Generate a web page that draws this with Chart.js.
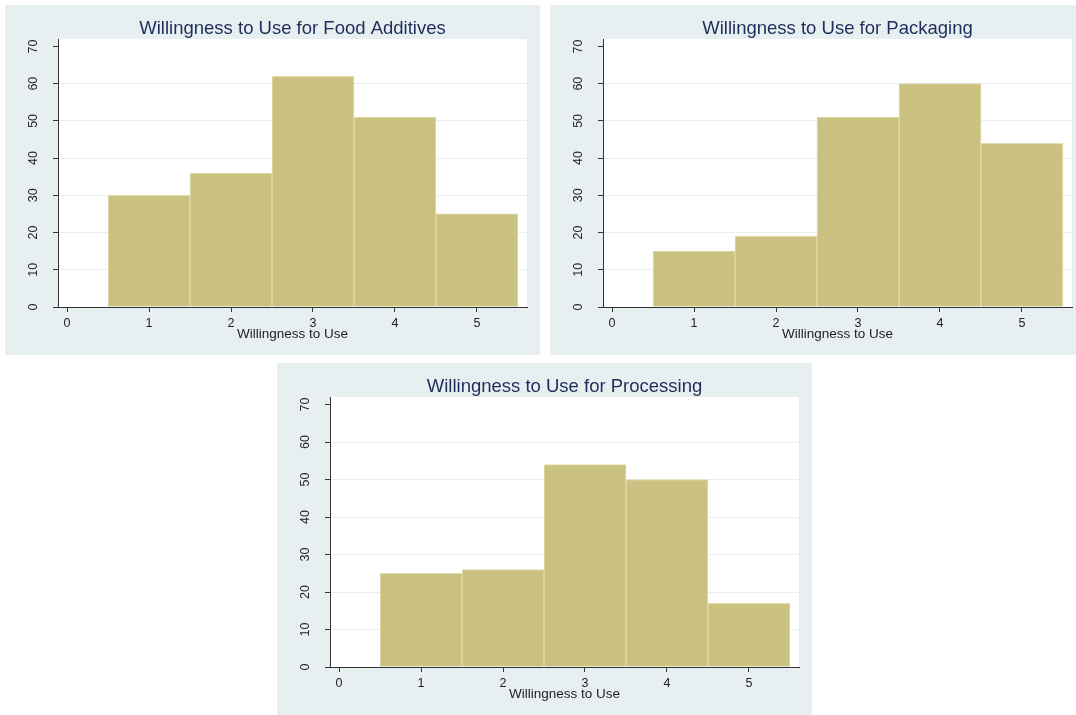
<!DOCTYPE html>
<html>
<head>
<meta charset="utf-8">
<script src="https://cdn.jsdelivr.net/npm/chart.js@4.4.1/dist/chart.umd.min.js"></script>
<style>
  html, body { margin: 0; padding: 0; background: #fff; width: 1076px; height: 715px; overflow: hidden; }
  .panel { position: absolute; width: 535px; background: #e8eff1; }
</style>
</head>
<body>
<div class="panel" style="left:5px; top:5px; height:350px;"><canvas id="foodChart"></canvas></div>
<div class="panel" style="left:550px; top:5px; height:350px;"><canvas id="packChart"></canvas></div>
<div class="panel" style="left:277px; top:363px; height:352px;"><canvas id="procChart"></canvas></div>
<script>
// Counts of respondents per willingness score
const willingness = [1, 2, 3, 4, 5];
const foodAdditives = [30, 36, 62, 51, 25];
const packaging = [15, 19, 51, 60, 44];
const processing = [25, 26, 54, 50, 17];

const xTicks = [0, 1, 2, 3, 4, 5];
const yTicks = [0, 10, 20, 30, 40, 50, 60, 70];

const FONT = '"Liberation Sans", Arial, sans-serif';
Chart.defaults.font.family = FONT;
Chart.defaults.color = '#222';

// white plot region on the tinted panel
const plotBackground = {
    id: 'plotBackground',
    beforeDraw(chart) {
        const { ctx, chartArea: a } = chart;
        ctx.save();
        ctx.fillStyle = '#ffffff';
        ctx.fillRect(a.left, a.top, a.right - a.left, a.bottom - a.top);
        ctx.restore();
    }
};

function makePanel(id, title, counts) {
    const ctx = document.getElementById(id).getContext('2d');
    return new Chart(ctx, {
        type: 'bar',
        data: {
            datasets: [{
                data: willingness.map((w, i) => ({ x: w, y: counts[i] })),
                backgroundColor: '#cbc282',
                borderColor: '#e2dcae',
                borderWidth: { top: 1, left: 1, right: 1, bottom: 0 },
                borderSkipped: false,
                barPercentage: 1,
                categoryPercentage: 1
            }]
        },
        options: {
            responsive: true,
            maintainAspectRatio: false,
            devicePixelRatio: 1,
            animation: false,
            layout: { padding: { top: 0, left: 0, right: 13, bottom: 0 } },
            plugins: {
                legend: { display: false },
                tooltip: { enabled: false }
            },
            scales: {
                x: {
                    type: 'linear',
                    position: 'bottom',
                    min: -0.11,
                    max: 5.61,
                    offset: false,
                    afterBuildTicks: (scale) => { scale.ticks = xTicks.map(v => ({ value: v })); },
                    afterFit: (scale) => { scale.height = 48; },
                    grid: {
                        offset: false,
                        drawOnChartArea: false,
                        tickLength: 5,
                        tickColor: '#333'
                    },
                    border: { color: '#333', width: 1 },
                    ticks: { padding: 4, font: { size: 12.5 }, color: '#222', autoSkip: false, maxRotation: 0 },
                    title: {
                        display: true,
                        text: 'Willingness to Use',
                        font: { size: 13.5 },
                        color: '#222',
                        padding: { top: 0, bottom: 13 }
                    }
                },
                // top axis only carries the panel heading, centred over the plot
                heading: {
                    type: 'linear',
                    position: 'top',
                    afterFit: (scale) => { scale.height = 34; },
                    grid: { display: false },
                    border: { display: false },
                    ticks: { display: false },
                    title: {
                        display: true,
                        text: title,
                        font: { size: 18.5 },
                        color: '#1e2d5b',
                        padding: { top: 13, bottom: 0 }
                    }
                },
                y: {
                    min: 0,
                    max: 72,
                    afterBuildTicks: (scale) => { scale.ticks = yTicks.map(v => ({ value: v })); },
                    afterFit: (scale) => { scale.width = 53; },
                    grid: {
                        color: (c) => (c.tick && (c.tick.value === 0 || c.tick.value === 70)) ? 'rgba(0,0,0,0)' : '#e6eff1',
                        tickLength: 5,
                        tickColor: '#333'
                    },
                    border: { color: '#333', width: 1 },
                    ticks: {
                        minRotation: 90,
                        maxRotation: 90,
                        crossAlign: 'center',
                        padding: 13,
                        autoSkip: false,
                        font: { size: 12.5 },
                        color: '#222'
                    }
                }
            }
        },
        plugins: [plotBackground]
    });
}

makePanel('foodChart', 'Willingness to Use for Food Additives', foodAdditives);
makePanel('packChart', 'Willingness to Use for Packaging', packaging);
makePanel('procChart', 'Willingness to Use for Processing', processing);
</script>
</body>
</html>
